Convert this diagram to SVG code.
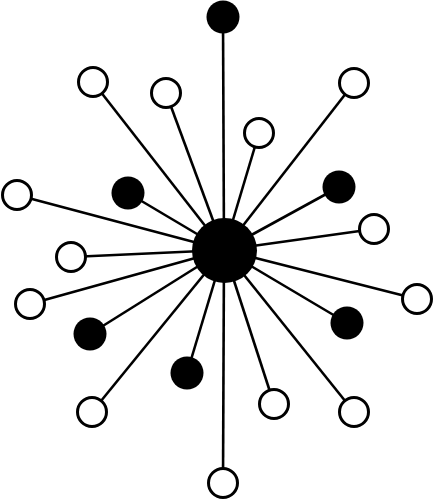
<svg xmlns="http://www.w3.org/2000/svg" width="434" height="500" viewBox="0 0 434 500">
<style>
.e{stroke:#000;stroke-width:2.6;fill:none}
.o{fill:#fff;stroke:#000;stroke-width:3}
.f{fill:#000}
</style>
<rect width="434" height="500" fill="#fff"/>
<g id="connectors" class="e">
<line x1="224" y1="250" x2="223" y2="17"/>
<line x1="224" y1="250" x2="93" y2="82"/>
<line x1="224" y1="250" x2="166" y2="93"/>
<line x1="224" y1="250" x2="259" y2="133"/>
<line x1="224" y1="250" x2="354" y2="83"/>
<line x1="224" y1="250" x2="128" y2="193"/>
<line x1="224" y1="250" x2="339" y2="187"/>
<line x1="224" y1="250" x2="17" y2="195"/>
<line x1="224" y1="250" x2="374" y2="229"/>
<line x1="224" y1="250" x2="71" y2="257"/>
<line x1="224" y1="250" x2="30" y2="304"/>
<line x1="224" y1="250" x2="417" y2="299"/>
<line x1="224" y1="250" x2="90" y2="334"/>
<line x1="224" y1="250" x2="347" y2="323"/>
<line x1="224" y1="250" x2="187" y2="373"/>
<line x1="224" y1="250" x2="92" y2="412"/>
<line x1="224" y1="250" x2="274" y2="404"/>
<line x1="224" y1="250" x2="354" y2="412"/>
<line x1="224" y1="250" x2="223" y2="483"/>
</g>
<g id="hub"><circle class="f" cx="224.5" cy="250.5" r="32.5"/></g>
<g id="n1"><circle class="f" cx="223" cy="17" r="16.5"/></g>
<g id="n2"><circle class="o" cx="93" cy="82" r="14.5"/></g>
<g id="n3"><circle class="o" cx="166" cy="93" r="14.5"/></g>
<g id="n4"><circle class="o" cx="259" cy="133" r="14.5"/></g>
<g id="n5"><circle class="o" cx="354" cy="83" r="14.5"/></g>
<g id="n6"><circle class="f" cx="128" cy="193" r="16.5"/></g>
<g id="n7"><circle class="f" cx="339" cy="187" r="16.5"/></g>
<g id="n8"><circle class="o" cx="17" cy="195" r="14.5"/></g>
<g id="n9"><circle class="o" cx="374" cy="229" r="14.5"/></g>
<g id="n10"><circle class="o" cx="71" cy="257" r="14.5"/></g>
<g id="n11"><circle class="o" cx="30" cy="304" r="14.5"/></g>
<g id="n12"><circle class="o" cx="417" cy="299" r="14.5"/></g>
<g id="n13"><circle class="f" cx="90" cy="334" r="16.5"/></g>
<g id="n14"><circle class="f" cx="347" cy="323" r="16.5"/></g>
<g id="n15"><circle class="f" cx="187" cy="373" r="16.5"/></g>
<g id="n16"><circle class="o" cx="92" cy="412" r="14.5"/></g>
<g id="n17"><circle class="o" cx="274" cy="404" r="14.5"/></g>
<g id="n18"><circle class="o" cx="354" cy="412" r="14.5"/></g>
<g id="n19"><circle class="o" cx="223" cy="483" r="14.5"/></g>
</svg>
